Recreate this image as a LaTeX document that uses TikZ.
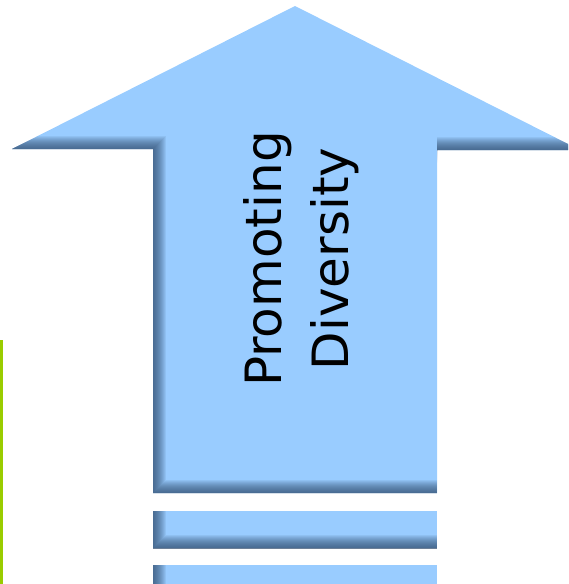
\documentclass[tikz,border=0pt]{standalone}
\usepackage{fontspec}
\setmainfont{DejaVu Sans}
\definecolor{arrowblue}{HTML}{99CCFF}
\definecolor{shadeblue}{HTML}{2F4A6C}
\definecolor{leafgreen}{HTML}{99CC00}

\begin{document}
\begin{tikzpicture}[x=1pt, y=-1pt,
        body/.style={fill=arrowblue},
        rim/.style={draw=shadeblue, draw opacity=0.09, line width=#1},
        label/.style={rotate=90, align=center, font=\fontsize{50}{67}\selectfont}]

    \useasboundingbox (0,0) rectangle (568,584);
    \clip (0,0) rectangle (568,584);

    % big arrow
    \path[body] (153,493) -- (153,149) -- (12,149) -- (295,6) -- (580,150)
        -- (437,150) -- (437,493) -- cycle;
    \begin{scope}
        \clip (153,493) -- (153,149) -- (12,149) -- (295,6) -- (580,150)
            -- (437,150) -- (437,493) -- cycle;
        \foreach \w in {2,4,...,26} {
            \draw[rim=\w pt] (12,149) -- (153,149) -- (153,493) -- (437,493);
            \draw[rim=\w pt] (437,150) -- (580,150);
        }
    \end{scope}

    % bars
    \foreach \top/\bot in {511/548, 565/603} {
        \path[body] (153,\top) rectangle (437,\bot);
        \begin{scope}
            \clip (153,\top) rectangle (437,\bot);
            \foreach \w in {2,4,...,26}
                \draw[rim=\w pt] (153,\top) -- (153,\bot) -- (437,\bot);
        \end{scope}
    }

    % side line
    \fill[leafgreen] (0,340) rectangle (3,584);

    \node (title) [label] at (301,259) {Promoting\\Diversity};
\end{tikzpicture}
\end{document}
